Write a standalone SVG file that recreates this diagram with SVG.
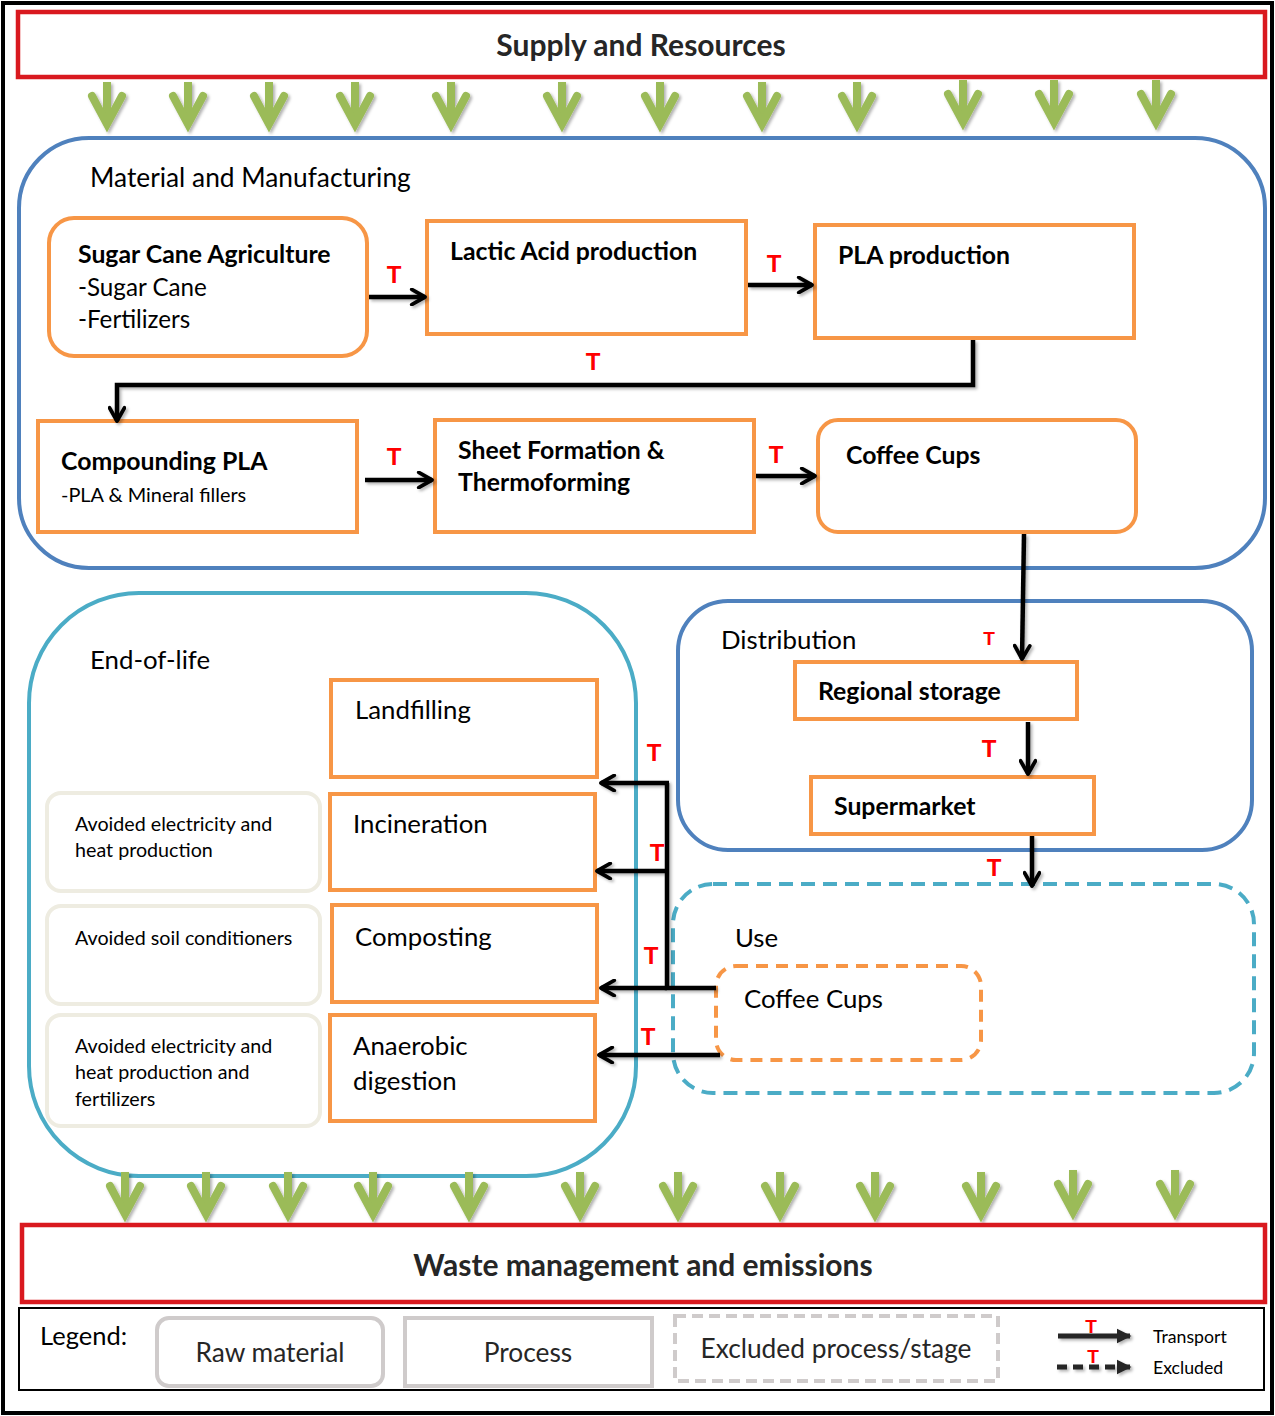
<svg xmlns="http://www.w3.org/2000/svg" width="1275" height="1416" viewBox="0 0 1275 1416">
<defs>
<style>
text{font-family:Lato,"Open Sans","Liberation Sans",sans-serif;fill:#000}
.b{font-weight:bold}
.hdr{font-weight:bold;font-size:30px;fill:#262626;text-anchor:middle}
.lbl{font-size:25.8px}
.proc{fill:#fff;stroke:#f79646;stroke-width:4}
.ctn{fill:none;stroke:#4f81bd;stroke-width:4}
.eol{fill:none;stroke:#4bacc6;stroke-width:4}
.av{fill:#fff;stroke:#eeece1;stroke-width:4}
.red{fill:#fff;stroke:#d9191f;stroke-width:4.5}
.t{fill:#ff0000;font-weight:bold;font-size:24px;text-anchor:middle;font-family:"Liberation Sans",Arial,sans-serif}
.ts{fill:#ff0000;font-weight:bold;font-size:19px;text-anchor:middle;font-family:"Liberation Sans",Arial,sans-serif}
.con{fill:none;stroke:#000;stroke-width:4.5;marker-end:url(#ah)}
.leg{fill:#fff;stroke:#cfcbcb;stroke-width:4}
.lt{font-size:26.3px;fill:#262626;text-anchor:middle}
.bt{font-weight:bold;font-size:24.8px}
.rt{font-size:24.2px}
.st{font-size:19.7px}
.et{font-size:25.8px}
</style>
<marker id="ah" viewBox="0 0 10 10" refX="8.6" refY="5" markerWidth="4.2" markerHeight="4.2" orient="auto" markerUnits="strokeWidth">
<path d="M1.6,1 L8.6,5 L1.6,9" fill="none" stroke="#000" stroke-width="2" stroke-linecap="round" stroke-linejoin="round"/>
</marker>
<marker id="fh" viewBox="0 0 10 10" refX="9" refY="5" markerWidth="3" markerHeight="3.5" orient="auto" markerUnits="strokeWidth">
<path d="M0,0 L10,5 L0,10 Z" fill="#262626"/>
</marker>
<filter id="sh" x="-50%" y="-50%" width="200%" height="200%">
<feDropShadow dx="2" dy="2" stdDeviation="1.5" flood-color="#000" flood-opacity="0.3"/>
</filter>
<filter id="shu" filterUnits="userSpaceOnUse" x="0" y="0" width="1275" height="1416">
<feDropShadow dx="2" dy="2" stdDeviation="1.5" flood-color="#000" flood-opacity="0.3"/>
</filter>
<g id="ga" filter="url(#sh)">
<path d="M0,0 V38" stroke="#9bbb59" stroke-width="8" fill="none"/>
<path d="M-15,14 L0,42 L15,14" stroke="#9bbb59" stroke-width="8" fill="none" stroke-linecap="round" stroke-linejoin="miter"/>
</g>
</defs>
<rect width="1275" height="1416" fill="#fff"/>
<rect x="3" y="3" width="1269" height="1410" fill="none" stroke="#000" stroke-width="4"/>

<g id="supply">
<rect class="red" x="18" y="12" width="1247" height="65"/>
<text class="hdr" x="641" y="56">Supply and Resources</text>
</g>

<g id="supply-arrows">
<use href="#ga" x="107" y="82"/><use href="#ga" x="188" y="82"/><use href="#ga" x="269" y="82"/><use href="#ga" x="355" y="82"/>
<use href="#ga" x="451" y="82"/><use href="#ga" x="562" y="82"/><use href="#ga" x="660" y="82"/><use href="#ga" x="762" y="82"/>
<use href="#ga" x="857" y="82"/><use href="#ga" x="963" y="80"/><use href="#ga" x="1054" y="80"/><use href="#ga" x="1156" y="80"/>
</g>

<g id="material-manufacturing">
<rect class="ctn" x="19" y="138" width="1246" height="430" rx="70"/>
<text x="90" y="187" font-size="26.3">Material and Manufacturing</text>
</g>

<g id="sugar-cane">
<rect class="proc" x="49" y="218" width="318" height="138" rx="25"/>
<text class="bt" x="78" y="263">Sugar Cane Agriculture</text>
<text class="rt" x="78" y="296">-Sugar Cane</text>
<text class="rt" x="78" y="328">-Fertilizers</text>
</g>
<g id="lactic-acid">
<rect class="proc" x="427" y="221" width="319" height="113"/>
<text class="bt" x="450" y="260">Lactic Acid production</text>
</g>
<g id="pla-production">
<rect class="proc" x="815" y="225" width="319" height="113"/>
<text class="bt" x="838" y="264">PLA production</text>
</g>
<g id="compounding">
<rect class="proc" x="38" y="421" width="319" height="111"/>
<text class="bt" x="61" y="470">Compounding PLA</text>
<text x="61" y="502" font-size="19.9">-PLA &amp; Mineral fillers</text>
</g>
<g id="sheet-formation">
<rect class="proc" x="435" y="420" width="319" height="112"/>
<text class="bt" x="458" y="459">Sheet Formation &amp;</text>
<text class="bt" x="458" y="491">Thermoforming</text>
</g>
<g id="coffee-cups-mfg">
<rect class="proc" x="818" y="420" width="318" height="112" rx="20"/>
<text class="bt" x="846" y="464">Coffee Cups</text>
</g>

<g id="distribution">
<rect class="ctn" x="678" y="601" width="574" height="249" rx="50"/>
<text class="lbl" x="721" y="649">Distribution</text>
</g>
<g id="regional-storage">
<rect class="proc" x="795" y="662" width="282" height="57"/>
<text class="bt" x="818" y="700">Regional storage</text>
</g>
<g id="supermarket">
<rect class="proc" x="811" y="777" width="283" height="57"/>
<text class="bt" x="834" y="815">Supermarket</text>
</g>

<g id="use">
<rect x="673" y="884" width="581" height="209" rx="40" fill="none" stroke="#4bacc6" stroke-width="4" stroke-dasharray="14,8"/>
<text class="lbl" x="735" y="947">Use</text>
</g>
<g id="coffee-cups-use">
<rect x="716" y="966" width="265" height="94" rx="20" fill="#fff" stroke="#f79646" stroke-width="4" stroke-dasharray="12,8"/>
<text class="et" x="744" y="1008">Coffee Cups</text>
</g>

<g id="end-of-life">
<rect class="eol" x="29" y="593" width="607" height="583" rx="110"/>
<text class="lbl" x="90" y="669">End-of-life</text>
</g>
<g id="landfilling">
<rect class="proc" x="331" y="680" width="266" height="97"/>
<text class="et" x="355" y="719">Landfilling</text>
</g>
<g id="incineration">
<rect class="proc" x="330" y="794" width="265" height="96"/>
<text class="et" x="353" y="833">Incineration</text>
</g>
<g id="composting">
<rect class="proc" x="332" y="905" width="265" height="97"/>
<text class="et" x="355" y="946">Composting</text>
</g>
<g id="anaerobic">
<rect class="proc" x="330" y="1015" width="265" height="106"/>
<text class="et" x="353" y="1055">Anaerobic</text>
<text class="et" x="353" y="1090">digestion</text>
</g>
<g id="avoided-1">
<rect class="av" x="47" y="793" width="273" height="98" rx="14"/>
<text class="st" x="75" y="831">Avoided electricity and</text>
<text class="st" x="75" y="857">heat production</text>
</g>
<g id="avoided-2">
<rect class="av" x="47" y="906" width="273" height="98" rx="14"/>
<text class="st" x="75" y="945">Avoided soil conditioners</text>
</g>
<g id="avoided-3">
<rect class="av" x="47" y="1015" width="273" height="111" rx="14"/>
<text class="st" x="75" y="1053">Avoided electricity and</text>
<text class="st" x="75" y="1079">heat production and</text>
<text class="st" x="75" y="1106">fertilizers</text>
</g>

<g id="connectors">
<g filter="url(#shu)">
<path class="con" d="M369,297 H425"/>
<path class="con" d="M748,285 H812"/>
<path class="con" d="M973,340 V385 H117 V421"/>
<path class="con" d="M365,480 H432"/>
<path class="con" d="M756,476 H815"/>
<path class="con" d="M1024,534 L1022,659"/>
<path class="con" d="M1028,722 V774"/>
<path class="con" d="M1032,836 V886"/>
<path fill="none" stroke="#000" stroke-width="4.5" d="M716,988 H667 V783"/>
<path class="con" d="M669,783 H601"/>
<path class="con" d="M667,871 H597"/>
<path class="con" d="M667,988 H601"/>
<path class="con" d="M720,1055 H599"/>
</g>
<text class="t" x="394" y="283">T</text>
<text class="t" x="774" y="272">T</text>
<text class="t" x="593" y="370">T</text>
<text class="t" x="394" y="465">T</text>
<text class="t" x="776" y="463">T</text>
<text class="ts" x="989" y="645">T</text>
<text class="t" x="989" y="757">T</text>
<text class="t" x="994" y="876">T</text>
<text class="t" x="654" y="761">T</text>
<text class="t" x="657" y="861">T</text>
<text class="t" x="651" y="964">T</text>
<text class="t" x="648" y="1045">T</text>
</g>

<g id="waste-arrows">
<use href="#ga" x="125" y="1172"/><use href="#ga" x="206" y="1172"/><use href="#ga" x="288" y="1172"/><use href="#ga" x="373" y="1172"/>
<use href="#ga" x="469" y="1172"/><use href="#ga" x="580" y="1172"/><use href="#ga" x="678" y="1172"/><use href="#ga" x="780" y="1172"/>
<use href="#ga" x="875" y="1172"/><use href="#ga" x="981" y="1172"/><use href="#ga" x="1073" y="1170"/><use href="#ga" x="1175" y="1170"/>
</g>

<g id="waste">
<rect class="red" x="22" y="1225" width="1243" height="77"/>
<text class="hdr" x="643" y="1276">Waste management and emissions</text>
</g>

<g id="legend">
<rect x="19" y="1308" width="1245" height="82" fill="#fff" stroke="#000" stroke-width="2"/>
<text x="40" y="1345" font-size="25.5" fill="#000">Legend:</text>
<rect class="leg" x="157" y="1318" width="226" height="68" rx="12"/>
<text class="lt" x="270" y="1362">Raw material</text>
<rect class="leg" x="405" y="1318" width="247" height="68"/>
<text class="lt" x="528" y="1362">Process</text>
<rect x="675" y="1316" width="323" height="65" fill="#fff" stroke="#cfcbcb" stroke-width="4" stroke-dasharray="11,6"/>
<text class="lt" x="836" y="1358">Excluded process/stage</text>
<g filter="url(#shu)">
<path d="M1058,1336 H1130" stroke="#262626" stroke-width="5" fill="none" marker-end="url(#fh)"/>
<path d="M1057,1367 H1130" stroke="#262626" stroke-width="5" fill="none" stroke-dasharray="10,6" marker-end="url(#fh)"/>
</g>
<text class="ts" x="1091" y="1333" font-size="16">T</text>
<text class="ts" x="1093" y="1363" font-size="16">T</text>
<text x="1153" y="1343" font-size="17.7" fill="#262626">Transport</text>
<text x="1153" y="1374" font-size="17.7" fill="#262626">Excluded</text>
</g>
</svg>
